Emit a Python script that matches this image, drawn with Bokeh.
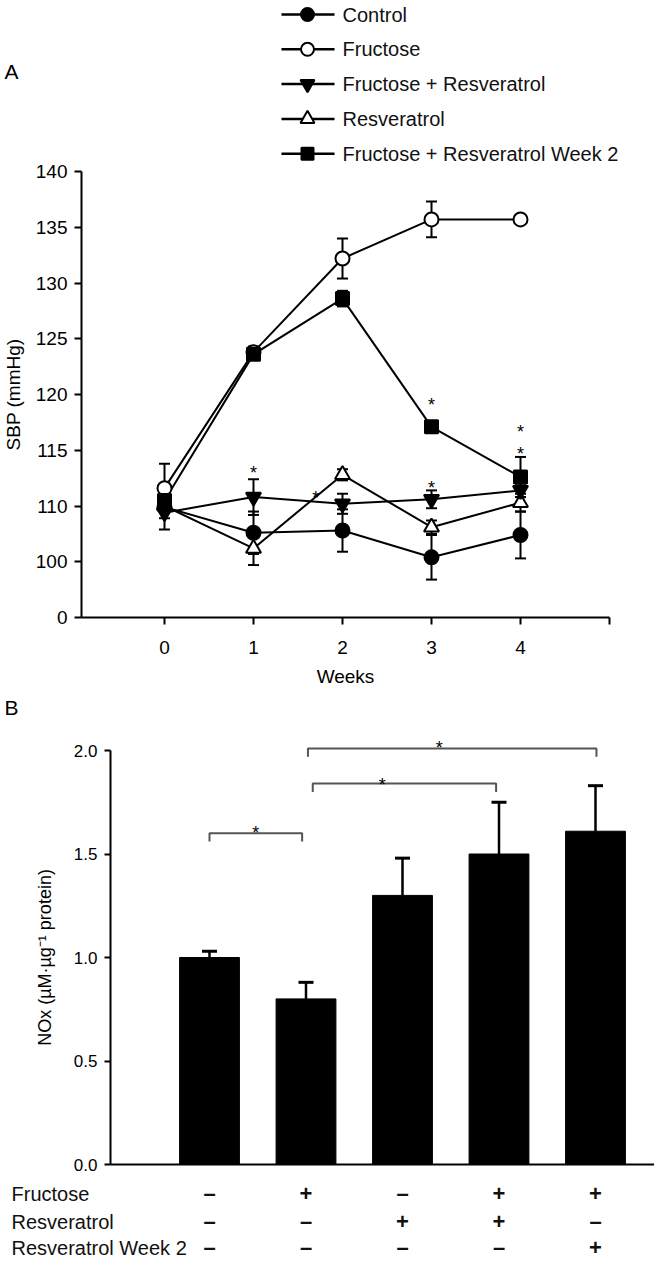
from bokeh.plotting import figure
from bokeh.models import Range1d, FixedTicker, Whisker, TeeHead, ColumnDataSource, LinearAxis
from bokeh.layouts import column
from bokeh.embed import file_html
from bokeh.resources import INLINE
from bokeh.core.properties import value

FONT = "Liberation Sans"

# ---------------- Panel A data (SBP, mmHg) ----------------
weeks = [0, 1, 2, 3, 4]
series_names = ["Control", "Fructose", "Fructose + Resveratrol", "Resveratrol",
                "Fructose + Resveratrol Week 2"]
control = [109.9, 107.6, 107.8, 105.4, 107.4]
control_err = [1.0, 1.9, 1.9, 2.0, 2.1]
fructose = [111.6, 123.8, 132.2, 135.7, 135.7]
fructose_err = [2.2, 0.5, 1.8, 1.6, 0.3]
fruc_resv = [109.4, 110.8, 110.2, 110.6, 111.4]
fruc_resv_err = [1.5, 1.6, 0.9, 0.8, 0.6]
resv = [110.0, 106.2, 112.8, 108.1, 110.3]
resv_err = [0.5, 1.5, 0.5, 0.6, 0.8]
fruc_resv_w2 = [110.5, 123.6, 128.6, 117.1, 112.6]
fruc_resv_w2_err = [0.8, 0.5, 0.7, 0.4, 1.8]

sbp_ticks = [100, 105, 110, 115, 120, 125, 130, 135, 140]
sbp_tick_labels = ["0", "100", "110", "115", "120", "125", "130", "135", "140"]
week_ticks = [0, 1, 2, 3, 4, 5]
week_tick_labels = ["0", "1", "2", "3", "4", ""]

sig_a_week = [1, 1.7, 3, 3, 4, 4]
sig_a_sbp = [113.9, 111.6, 120.0, 112.5, 117.5, 115.6]

# ---------------- Panel B data (NOx) ----------------
groups = [0, 1, 2, 3, 4]
nox = [1.00, 0.80, 1.30, 1.50, 1.61]
nox_err = [0.03, 0.08, 0.18, 0.25, 0.22]
nox_ticks = [0.0, 0.5, 1.0, 1.5, 2.0]
nox_tick_labels = ["0.0", "0.5", "1.0", "1.5", "2.0"]

bracket_left = [0.0, 1.07, 1.02]
bracket_right = [0.96, 2.97, 4.01]
bracket_y = [1.60, 1.84, 2.01]
bracket_star_x = [0.48, 1.79, 2.38]
bracket_star_y = [1.652, 1.884, 2.058]

row_labels = ["Fructose", "Resveratrol", "Resveratrol Week 2"]
fructose_row = ["–", "+", "–", "+", "+"]
resveratrol_row = ["–", "–", "+", "+", "–"]
resveratrol_w2_row = ["–", "–", "–", "–", "+"]

styles = {
    "Control": dict(marker="circle", fill="black", size=14),
    "Fructose": dict(marker="circle", fill="white", size=14),
    "Fructose + Resveratrol": dict(marker="inverted_triangle", fill="black", size=15),
    "Resveratrol": dict(marker="triangle", fill="white", size=15),
    "Fructose + Resveratrol Week 2": dict(marker="square", fill="black", size=13),
}
values = {
    "Control": (control, control_err),
    "Fructose": (fructose, fructose_err),
    "Fructose + Resveratrol": (fruc_resv, fruc_resv_err),
    "Resveratrol": (resv, resv_err),
    "Fructose + Resveratrol Week 2": (fruc_resv_w2, fruc_resv_w2_err),
}

W = 654


def bare(fig):
    fig.outline_line_color = None
    fig.grid.visible = False
    fig.background_fill_color = "white"
    fig.border_fill_color = "white"


def style_axis(ax, tick_size):
    ax.axis_line_width = 2
    ax.axis_line_color = "black"
    ax.major_tick_line_width = 2
    ax.major_tick_line_color = "black"
    ax.major_tick_in = 0
    ax.minor_tick_line_color = None
    ax.major_label_text_font = FONT
    ax.major_label_text_font_size = tick_size
    ax.major_label_text_color = "black"
    ax.axis_label_text_font = FONT
    ax.axis_label_text_font_style = "normal"
    ax.axis_label_text_color = "black"


# ================= Figure A (legend + SBP panel) =================
HA = 692
A_ZERO_PX = 617                      # px from top where SBP axis base (100) sits
A_Y0, A_PX_PER_UNIT = 100, 11.15
A_X0_PX, A_PX_PER_WEEK = 164, 89.0   # week 0 position (px from left)
pa = figure(width=W, height=HA,
            x_range=Range1d(-A_X0_PX / A_PX_PER_WEEK, (W - A_X0_PX) / A_PX_PER_WEEK),
            y_range=Range1d(A_Y0 - (HA - A_ZERO_PX) / A_PX_PER_UNIT,
                            A_Y0 + A_ZERO_PX / A_PX_PER_UNIT),
            toolbar_location=None, output_backend="svg",
            x_axis_location=None, y_axis_location=None,
            min_border_left=0, min_border_right=0, min_border_top=0, min_border_bottom=0)
bare(pa)
pa.extra_x_ranges = {"px": Range1d(0, W)}
pa.extra_y_ranges = {"px": Range1d(HA, 0)}

# panel letter and legend (pixel layout)
pa.text(x=[4], y=[71], text=["A"], x_range_name="px", y_range_name="px",
        text_font=value(FONT), text_font_size="21px", text_baseline="middle",
        text_align="left", text_color="black")
leg_y0, leg_dy = 14, 34.8
for k, name in enumerate(series_names):
    yy = leg_y0 + k * leg_dy
    st = styles[name]
    pa.segment(x0=[281], y0=[yy], x1=[334], y1=[yy], x_range_name="px", y_range_name="px",
               line_color="black", line_width=2.5)
    pa.scatter(x=[307], y=[yy], x_range_name="px", y_range_name="px", marker=st["marker"],
               size=st["size"] - 1, fill_color=st["fill"], line_color="black", line_width=2)
    pa.text(x=[342], y=[yy], text=[name], x_range_name="px", y_range_name="px",
            text_font=value(FONT), text_font_size="20px", text_baseline="middle",
            text_align="left", text_color="#111111")

draw_order = ["Fructose", "Resveratrol", "Fructose + Resveratrol Week 2",
              "Fructose + Resveratrol", "Control"]
for name in draw_order:
    v, e = values[name]
    src = ColumnDataSource(dict(x=weeks, y=v, upper=[a + b for a, b in zip(v, e)],
                                lower=[a - b for a, b in zip(v, e)]))
    pa.add_layout(Whisker(base="x", upper="upper", lower="lower", source=src,
                          line_color="black", line_width=2,
                          upper_head=TeeHead(size=11, line_width=2, line_color="black"),
                          lower_head=TeeHead(size=11, line_width=2, line_color="black")))
    pa.line(x="x", y="y", source=src, line_color="black", line_width=2)
for name in draw_order:
    v, e = values[name]
    st = styles[name]
    pa.scatter(x=weeks, y=v, marker=st["marker"], size=st["size"], fill_color=st["fill"],
               line_color="black", line_width=2)

pa.text(x=sig_a_week, y=sig_a_sbp, text=["*"] * len(sig_a_week), text_font=value(FONT),
        text_font_size="18px", text_align="center", text_baseline="alphabetic",
        y_offset=10, text_color="black")

a_left = -(A_X0_PX - 81) / A_PX_PER_WEEK
xa = LinearAxis(fixed_location=A_Y0, bounds=(a_left, 5.0))
style_axis(xa, "19px")
xa.ticker = FixedTicker(ticks=week_ticks)
xa.major_label_overrides = dict(zip(week_ticks, week_tick_labels))
xa.major_tick_out = 7
xa.major_label_standoff = 16
xa.axis_label = "Weeks"
xa.axis_label_text_font_size = "19px"
xa.axis_label_standoff = 9
pa.add_layout(xa, "below")

ya = LinearAxis(fixed_location=a_left, bounds=(100, 140))
style_axis(ya, "19px")
ya.ticker = FixedTicker(ticks=sbp_ticks)
ya.major_label_overrides = dict(zip(sbp_ticks, sbp_tick_labels))
ya.major_tick_out = 7
ya.major_label_standoff = 7
ya.axis_label = "SBP (mmHg)"
ya.axis_label_text_font_size = "19px"
ya.axis_label_standoff = 9
pa.add_layout(ya, "left")

# ================= Figure B (NOx bars + treatment table) =================
HB = 568
B_ZERO_PX = 472          # y = 0 position from top (px)
B_PX_PER_UNIT = 207.0
B_X0_PX, B_PX_PER_GROUP = 209, 96.5
pb = figure(width=W, height=HB,
            x_range=Range1d(-B_X0_PX / B_PX_PER_GROUP, (W - B_X0_PX) / B_PX_PER_GROUP),
            y_range=Range1d(-(HB - B_ZERO_PX) / B_PX_PER_UNIT, B_ZERO_PX / B_PX_PER_UNIT),
            toolbar_location=None, output_backend="svg",
            x_axis_location=None, y_axis_location=None,
            min_border_left=0, min_border_right=0, min_border_top=0, min_border_bottom=0)
bare(pb)
pb.extra_x_ranges = {"px": Range1d(0, W)}
pb.extra_y_ranges = {"px": Range1d(HB, 0)}

pb.text(x=[4], y=[15], text=["B"], x_range_name="px", y_range_name="px",
        text_font=value(FONT), text_font_size="21px", text_baseline="middle",
        text_align="left", text_color="black")

pb.vbar(x=groups, top=nox, width=0.62, fill_color="black", line_color="black")
bsrc = ColumnDataSource(dict(x=groups, lower=nox, upper=[a + b for a, b in zip(nox, nox_err)]))
pb.add_layout(Whisker(base="x", upper="upper", lower="lower", source=bsrc,
                      line_color="black", line_width=2.5,
                      upper_head=TeeHead(size=15, line_width=3, line_color="black"),
                      lower_head=None))

leg_drop = 0.04
pb.multi_line(xs=[[l, l, r, r] for l, r in zip(bracket_left, bracket_right)],
              ys=[[y - leg_drop, y, y, y - leg_drop] for y in bracket_y],
              line_color="#555555", line_width=2)
pb.text(x=bracket_star_x, y=bracket_star_y, text=["*"] * len(bracket_star_x),
        text_font=value(FONT), text_font_size="18px", text_align="center",
        text_baseline="alphabetic", y_offset=10, text_color="black")

b_left = -(B_X0_PX - 110) / B_PX_PER_GROUP
xb = LinearAxis(fixed_location=0, bounds=(b_left, (W - B_X0_PX) / B_PX_PER_GROUP))
style_axis(xb, "17px")
xb.ticker = FixedTicker(ticks=[])
xb.major_tick_line_color = None
pb.add_layout(xb, "below")

yb = LinearAxis(fixed_location=b_left, bounds=(0, 2.0))
style_axis(yb, "17px")
yb.ticker = FixedTicker(ticks=nox_ticks)
yb.major_label_overrides = dict(zip(nox_ticks, nox_tick_labels))
yb.major_tick_out = 6
yb.major_label_standoff = 7
yb.axis_label = "NOx (µM·µg⁻¹ protein)"
yb.axis_label_text_font_size = "18px"
yb.axis_label_standoff = 16
pb.add_layout(yb, "left")

# treatment table under the bars
rows = [fructose_row, resveratrol_row, resveratrol_w2_row]
row_y = [501, 529, 555]
pb.text(x=[11] * 3, y=row_y, text=row_labels, x_range_name="px", y_range_name="px",
        text_font=value(FONT), text_font_size="20px", text_align="left",
        text_baseline="middle", text_color="#111111")
for r, signs in enumerate(rows):
    pb.text(x=groups, y=[row_y[r]] * len(groups), text=signs, y_range_name="px",
            text_font=value(FONT), text_font_size="22px", text_font_style="bold",
            text_align="center", text_baseline="middle", text_color="#111111")

layout = column(pa, pb, spacing=0)
open("out.html", "w").write(file_html(layout, INLINE))
